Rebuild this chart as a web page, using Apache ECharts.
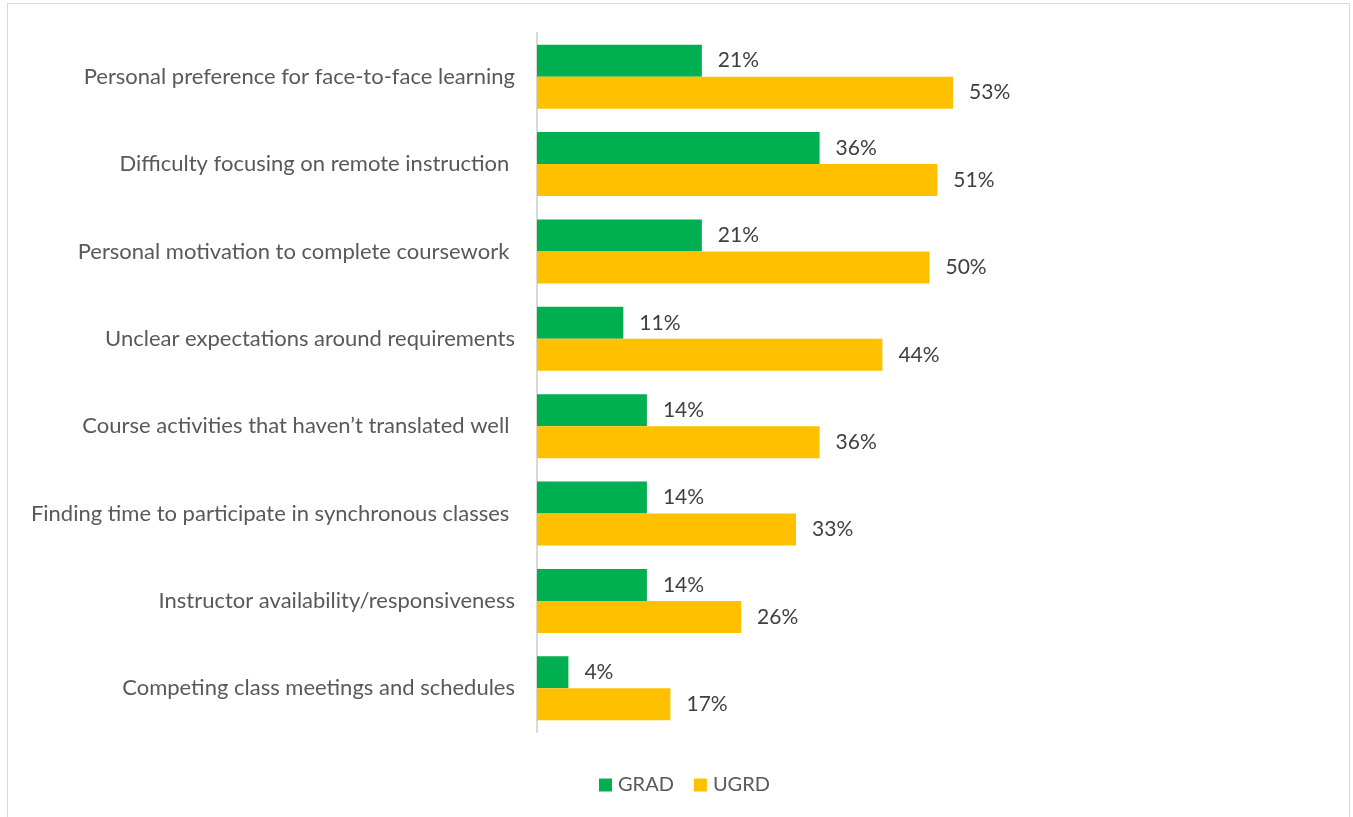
<!DOCTYPE html>
<html>
<head>
<meta charset="utf-8">
<script src="https://cdn.jsdelivr.net/npm/echarts@6/dist/echarts.min.js"></script>
<style>
  html, body { margin: 0; padding: 0; background: #fff; }
  #frame { position: absolute; left: 7px; top: 3px; width: 1343px; height: 830px; border: 1px solid #d9d9d9; box-sizing: border-box; }
  #chart { width: 1353px; height: 817px; }
</style>
</head>
<body>
<div id="frame"></div>
<div id="chart"></div>
<script>
// Reasons reported as challenges, share of respondents (%)
const categories = [
  'Personal preference for face-to-face learning',
  'Difficulty focusing on remote instruction ',
  'Personal motivation to complete coursework ',
  'Unclear expectations around requirements',
  'Course activities that haven\u2019t translated well ',
  'Finding time to participate in synchronous classes ',
  'Instructor availability/responsiveness',
  'Competing class meetings and schedules'
];
const gradValues = [21, 36, 21, 11, 14, 14, 14, 4];
const ugrdValues = [53, 51, 50, 44, 36, 33, 26, 17];

const FONT = 'Lato, "Open Sans", sans-serif';
const chart = echarts.init(document.getElementById('chart'), null, { renderer: 'canvas' });

const labelStyle = {
  show: true,
  position: 'right',
  distance: 16,
  color: '#404040',
  fontFamily: FONT,
  fontSize: 21,
  formatter: p => p.value + '%'
};

chart.setOption({
  animation: false,
  backgroundColor: 'transparent',
  grid: { left: 537, right: 345, top: 33, bottom: 85, containLabel: false },
  legend: {
    data: ['GRAD', 'UGRD'],
    bottom: 22,
    left: 599,
    padding: 0,
    icon: 'rect',
    itemWidth: 13,
    itemHeight: 13,
    itemGap: 20,
    textStyle: { color: '#595959', fontFamily: FONT, fontSize: 20, padding: [0, 0, 0, 1] }
  },
  xAxis: {
    type: 'value',
    min: 0,
    max: 60,
    show: false
  },
  yAxis: {
    type: 'category',
    inverse: true,
    data: categories,
    axisLine: { show: true, lineStyle: { color: '#d9d9d9', width: 2 } },
    axisTick: { show: false },
    axisLabel: { color: '#595959', fontFamily: FONT, fontSize: 22, margin: 22 }
  },
  series: [
    {
      name: 'GRAD',
      type: 'bar',
      data: gradValues,
      itemStyle: { color: '#00b050' },
      barGap: '0%',
      barCategoryGap: '26.7%',
      label: labelStyle
    },
    {
      name: 'UGRD',
      type: 'bar',
      data: ugrdValues,
      itemStyle: { color: '#ffc000' },
      label: labelStyle
    }
  ]
});
</script>
</body>
</html>
